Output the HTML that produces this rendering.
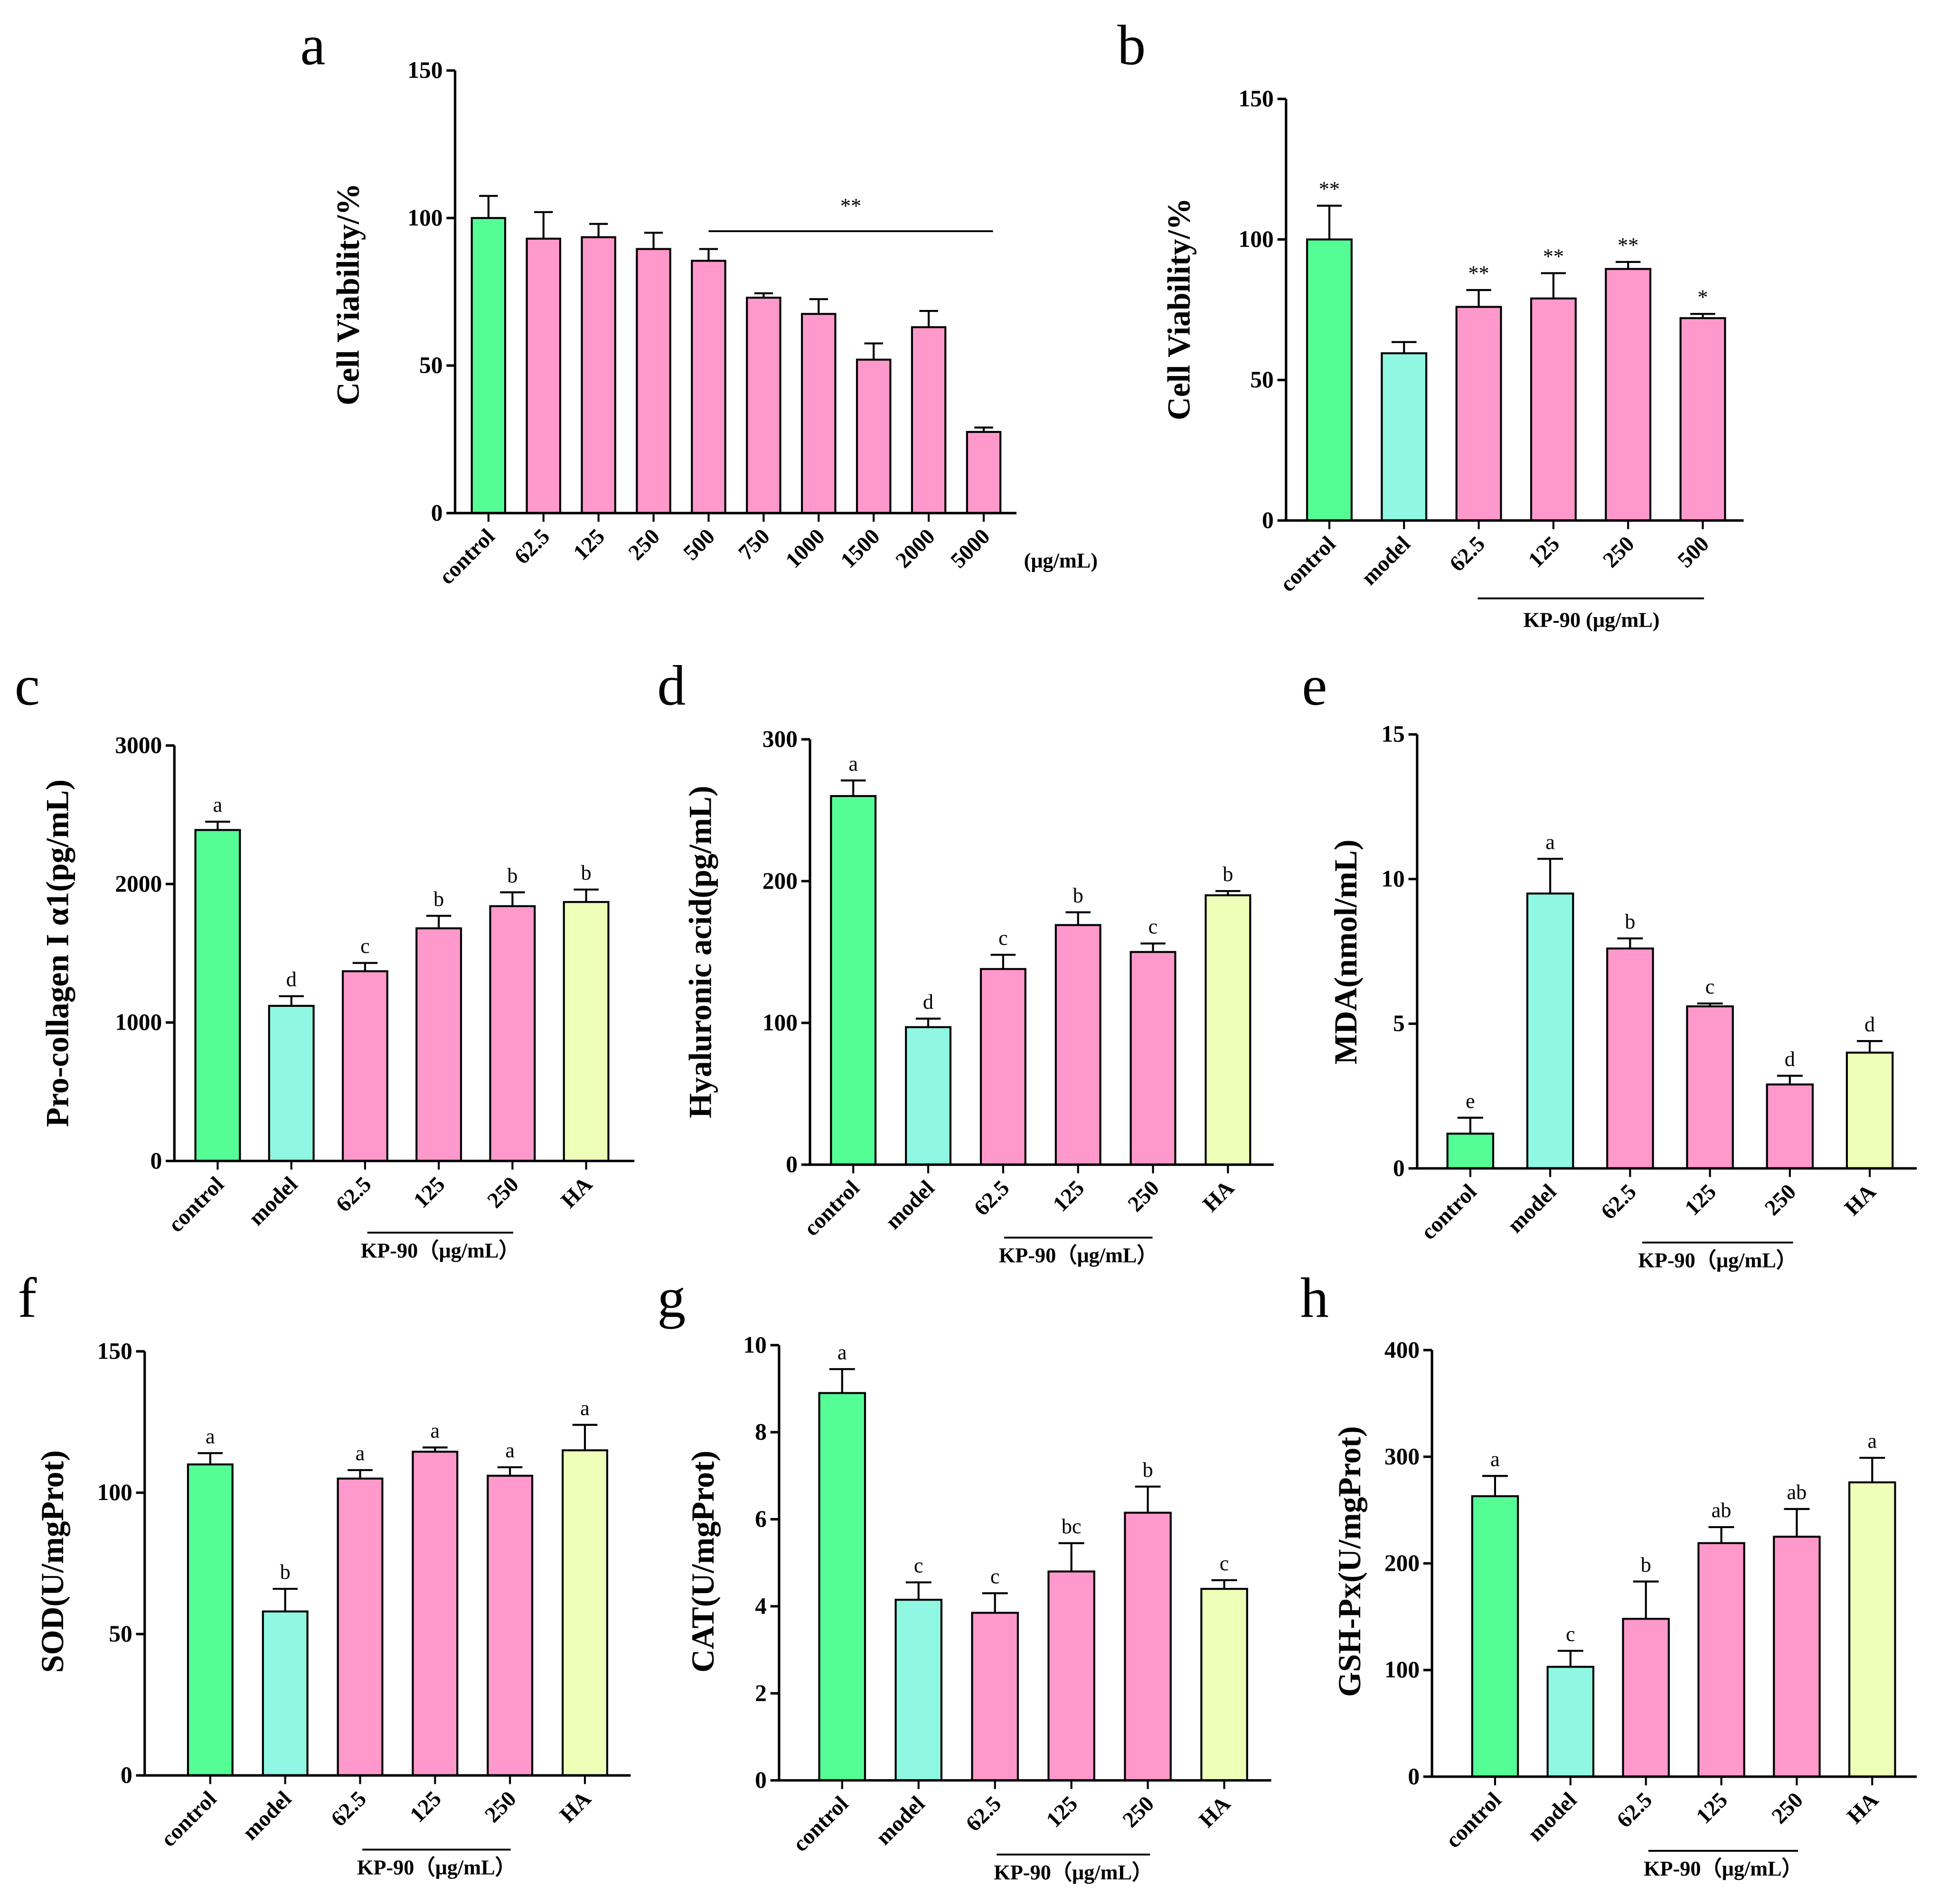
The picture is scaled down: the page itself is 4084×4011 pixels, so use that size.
<!DOCTYPE html>
<html><head><meta charset="utf-8"><style>
html,body{margin:0;padding:0;background:#fff}
svg{display:block}
text{font-family:"Liberation Serif",serif;font-weight:bold;fill:#000}
</style></head><body>
<svg id="fig" width="4084" height="4011" viewBox="0 0 1568 1540" xmlns="http://www.w3.org/2000/svg"></svg>
<script>
const catsA=["control","62.5","125","250","500","750","1000","1500","2000","5000"];
const valsA=[100,93,93.5,89.5,85.5,73,67.5,52,63,27.5];
const errA=[107.5,102,98,95,89.5,74.5,72.5,57.5,68.5,29];
const catsB=["control","model","62.5","125","250","500"];
const valsB=[100,59.5,76,79,89.5,72];
const errB=[112,63.5,82,88,92,73.5];
const sigB=["**","","**","**","**","*"];
const cats6=["control","model","62.5","125","250","HA"];
const valsC=[2390,1120,1370,1680,1840,1870];
const errC=[2450,1190,1430,1770,1940,1960];
const sigC=["a","d","c","b","b","b"];
const valsD=[260,97,138,169,150,190];
const errD=[271,103,148,178,156,193];
const sigD=["a","d","c","b","c","b"];
const valsE=[1.2,9.5,7.6,5.6,2.9,4.0];
const errE=[1.75,10.7,7.95,5.7,3.2,4.4];
const sigE=["e","a","b","c","d","d"];
const valsF=[110,58,105,114.5,106,115];
const errF=[114,66,108,116,109,124];
const sigF=["a","b","a","a","a","a"];
const valsG=[8.9,4.15,3.85,4.8,6.15,4.4];
const errG=[9.45,4.55,4.3,5.45,6.75,4.6];
const sigG=["a","c","c","bc","b","c"];
const valsH=[263,103,148,219,225,276];
const errH=[282,118,183,234,251,299];
const sigH=["a","c","b","ab","ab","a"];
const ticksA=[0,50,100,150],ticksC=[0,1000,2000,3000],ticksD=[0,100,200,300],ticksE=[0,5,10,15],ticksG=[0,2,4,6,8,10],ticksH=[0,100,200,300,400];

const NS="http://www.w3.org/2000/svg";
const svg=document.getElementById('fig');
function el(tag,attrs,parent,txt){const e=document.createElementNS(NS,tag);for(const k in attrs)e.setAttribute(k,attrs[k]);if(txt!==undefined)e.textContent=txt;(parent||svg).appendChild(e);return e;}
const COL={control:"#55fd95",model:"#8ff7e2",HA:"#eeffb8"};
function panel(p){
  const g=el('g',{});
  
  
  const ys=v=>p.y0-(v-p.min)/(p.max-p.min)*(p.y0-p.y1);
  const xs=i=>p.x0+i*p.step;
  const lt=el('text',{x:p.lx,y:p.ly,'font-size':46,'text-anchor':'middle',style:'font-weight:normal'},g,p.id);
  
  
  p.vals.forEach((v,i)=>{
    const c=p.cats[i];const fill=COL[c]||"#ff99cc";
    const cx=xs(i);
    const r=el('rect',{x:cx-p.bw/2,y:ys(v),width:p.bw,height:p.y0-ys(v),fill:fill,stroke:'#000','stroke-width':1.6},g);
    
    
    const e=el('path',{d:`M${cx},${ys(v)}V${ys(p.err[i])}M${cx-p.bw*0.28},${ys(p.err[i])}H${cx+p.bw*0.28}`,stroke:'#000','stroke-width':1.6,fill:'none'},g);
    
    
    if(p.sig&&p.sig[i]){const s=el('text',{x:cx,y:ys(p.err[i])-8,'font-size':17,'text-anchor':'middle',style:'font-weight:normal'},g,p.sig[i]);
      
      }
    el('line',{x1:cx,x2:cx,y1:p.y0,y2:p.y0+7,stroke:'#000','stroke-width':1.6},g);
    const t=el('text',{x:cx+6,y:p.y0+20,'font-size':18,'text-anchor':'end',transform:`rotate(-45 ${cx+6} ${p.y0+20})`},g,c);
    
    
  });
  const ax=el('path',{d:`M${p.ax},${p.y1}V${p.y0}H${p.xe}`,stroke:'#000','stroke-width':2,fill:'none'},g);
  
  
  p.ticks.forEach(t=>{
    el('line',{x1:p.ax-7,x2:p.ax,y1:ys(t),y2:ys(t),stroke:'#000','stroke-width':2},g);
    const tl=el('text',{x:p.ax-10,y:ys(t)+6,'font-size':19,'text-anchor':'end'},g,t);
    
    
  });
  const yt=el('text',{x:p.tx,y:p.ty,'font-size':26,'text-anchor':'middle',transform:`rotate(-90 ${p.tx} ${p.ty})`},g,p.title);
  
  
  if(p.ul){
    el('line',{x1:p.ul[0],x2:p.ul[1],y1:p.ul[2],y2:p.ul[2],stroke:'#000','stroke-width':1.5},g);
    const u=el('text',{x:(p.ul[0]+p.ul[1])/2,y:p.ul[2]+20,'font-size':17,'text-anchor':'middle'},g,'KP-90（μg/mL）');
    
    
  }
  return g;
}
const gA=panel({id:'a',cats:catsA,vals:valsA,err:errA,ticks:ticksA,min:0,max:150,ax:368,xe:822,y0:415,y1:57,x0:395,step:44.5,bw:27,tx:290,ty:238,lx:253,ly:52,title:'Cell Viability/%'});
el('line',{x1:573,x2:803,y1:187,y2:187,stroke:'#000','stroke-width':1.5},gA);
el('text',{x:688,y:172,'font-size':17,'text-anchor':'middle',style:'font-weight:normal'},gA,'**');
el('text',{x:828,y:459,'font-size':17},gA,'(μg/mL)');
const gB=panel({id:'b',cats:catsB,vals:valsB,err:errB,sig:sigB,ticks:ticksA,min:0,max:150,ax:1040,xe:1410,y0:421,y1:80,x0:1075,step:60.4,bw:36,tx:962,ty:250,lx:915,ly:52,title:'Cell Viability/%'});
el('line',{x1:1195,x2:1378,y1:484,y2:484,stroke:'#000','stroke-width':1.5},gB);
el('text',{x:1287,y:507,'font-size':17,'text-anchor':'middle'},gB,'KP-90 (μg/mL)');
panel({id:'c',cats:cats6,vals:valsC,err:errC,sig:sigC,ticks:ticksC,min:0,max:3000,ax:141,xe:513,y0:939,y1:603,x0:176,step:59.6,bw:36,tx:55,ty:771,lx:22,ly:570,title:'Pro-collagen I α1(pg/mL)',ul:[297,415,997]});
panel({id:'d',cats:cats6,vals:valsD,err:errD,sig:sigD,ticks:ticksD,min:0,max:300,ax:655,xe:1030,y0:942,y1:598,x0:690,step:60.6,bw:36,tx:575,ty:770,lx:543,ly:570,title:'Hyaluronic acid(pg/mL)',ul:[812,932,1001]});
panel({id:'e',cats:cats6,vals:valsE,err:errE,sig:sigE,ticks:ticksE,min:0,max:15,ax:1146,xe:1550,y0:945,y1:594,x0:1189,step:64.6,bw:37,tx:1097,ty:770,lx:1063,ly:570,title:'MDA(nmol/mL)',ul:[1328,1450,1005]});
panel({id:'f',cats:cats6,vals:valsF,err:errF,sig:sigF,ticks:ticksA,min:0,max:150,ax:117,xe:510,y0:1436,y1:1093,x0:170,step:60.6,bw:36,tx:51,ty:1263,lx:22,ly:1065,title:'SOD(U/mgProt)',ul:[293,413,1496]});
panel({id:'g',cats:cats6,vals:valsG,err:errG,sig:sigG,ticks:ticksG,min:0,max:10,ax:630,xe:1028,y0:1440,y1:1088,x0:681,step:61.8,bw:37,tx:577,ty:1263,lx:543,ly:1065,title:'CAT(U/mgProt)',ul:[806,930,1500]});
panel({id:'h',cats:cats6,vals:valsH,err:errH,sig:sigH,ticks:ticksH,min:0,max:400,ax:1158,xe:1550,y0:1437,y1:1092,x0:1209,step:61,bw:37,tx:1100,ty:1263,lx:1063,ly:1065,title:'GSH-Px(U/mgProt)',ul:[1333,1454,1497]});
</script>
</body></html>
